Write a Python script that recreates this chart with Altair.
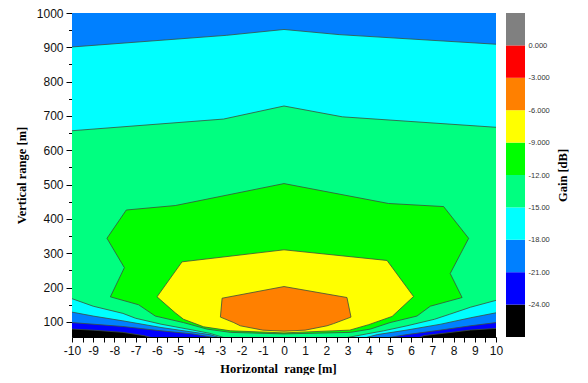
import altair as alt
import pandas as pd

# ---------------- data ----------------
X_DOMAIN = [-10, 10]
Y_DOMAIN = [56, 1000]

# contour -24 dB (black | blue)
C24L_X = [-10, -9, -7.6, -6.6, -6.0]
C24L_Y = [79, 76, 69.5, 60, 50]
C24R_X = [6.2, 6.6, 7.5, 8.8, 10]
C24R_Y = [50, 60, 66.6, 76.3, 81]
# contour -21 dB
C21L_X = [-10, -7.6, -5.8, -4.3, -2.9]
C21L_Y = [98, 86.6, 74, 65, 50]
C21R_X = [4.5, 5.8, 7.4, 8.8, 10]
C21R_Y = [50, 63, 76.3, 88.6, 98]
# contour -18 dB (bottom left / bottom right / top)
C18L_X = [-10, -9, -7.6, -5.8, -3.5, -2.8]
C18L_Y = [128.5, 117, 103, 83.7, 63, 50]
C18R_X = [3.6, 4.4, 5.8, 7.4, 8.8, 10]
C18R_Y = [50, 63, 76.3, 93.4, 112, 126.5]
C18T_X = [-10, -2.7, 0, 2.6, 10]
C18T_Y = [901, 935, 952, 937, 909]
# contour -15 dB
C15L_X = [-10, -9, -7.6, -7.0, -5.8, -4.3, -3.5, -2.6]
C15L_Y = [167.7, 145.7, 124.8, 110.6, 93.4, 76.3, 66.6, 50]
C15R_X = [2.6, 3.9, 4.7, 5.8, 7.1, 7.8, 8.8, 10]
C15R_Y = [50, 65, 74, 88.6, 107.7, 122, 142.8, 162.8]
C15T_X = [-10, -2.85, 0, 2.75, 10]
C15T_Y = [657, 691, 729, 697.5, 667]
# contour -12 dB (closed)
C12_X = [0, 4.93, 7.53, 8.71, 7.84, 8.4, 6.9, 6.27, 5.0, 4.07, 3.13, 0,
         -2.53, -3.63, -4.74, -6.07, -6.86, -8.19, -7.53, -8.35, -7.44, -5.13, 0]
C12_Y = [503, 445, 436, 343.5, 241, 171, 145.7, 117, 98, 79, 69.5, 65,
         69.5, 79, 98, 117, 150, 173, 258, 343.5, 426, 439, 503]
# contour -9 dB (closed)
C9_X = [0, 4.86, 6.11, 5.1, 4.0, 3.1, 0, -2.53, -3.79, -4.74, -5.13, -5.99, -4.81, 0]
C9_Y = [310, 279, 174, 116, 92, 76, 68, 74, 85.7, 107.7, 126.5, 173, 275, 310]
# contour -6 dB (closed)
C6_X = [0, 2.97, 3.16, 2.34, 2.03, 1, 0, -1, -2.06, -2.37, -3.0, -2.92, 0]
C6_Y = [203, 171, 114, 95, 88.6, 76, 73, 76, 88.6, 98, 114, 169, 203]

# colour bar
LEG_LO = [-27, -24, -21, -18, -15, -12, -9, -6, -3, 0]
LEG_HI = [-24, -21, -18, -15, -12, -9, -6, -3, 0, 3]
LEG_COLORS = ["#000000", "#0000ff", "#0080ff", "#00ffff", "#00ff80",
              "#00ff00", "#ffff00", "#ff8000", "#ff0000", "#808080"]
LEG_TICKS = [-24, -21, -18, -15, -12, -9, -6, -3, 0]

X_TICKS = [v / 2 for v in range(-20, 21)]
Y_TICKS = list(range(100, 1001, 50))

# ---------------- build tables ----------------
TOP = 1010
polys = {
    "p24": ([X_DOMAIN[0]] + C24L_X + C24R_X + [X_DOMAIN[1]],
            [TOP] + C24L_Y + C24R_Y + [TOP], "#0000ff"),
    "p21": ([X_DOMAIN[0]] + C21L_X + C21R_X + [X_DOMAIN[1]],
            [TOP] + C21L_Y + C21R_Y + [TOP], "#0080ff"),
    "p18": (C18L_X + C18R_X + C18T_X[::-1], C18L_Y + C18R_Y + C18T_Y[::-1], "#00ffff"),
    "p15": (C15L_X + C15R_X + C15T_X[::-1], C15L_Y + C15R_Y + C15T_Y[::-1], "#00ff80"),
    "p12": (C12_X, C12_Y, "#00ff00"),
    "p9": (C9_X, C9_Y, "#ffff00"),
    "p6": (C6_X, C6_Y, "#ff8000"),
}
poly_rows = []
for name, (xs, ys, _) in polys.items():
    for i, (x, y) in enumerate(zip(xs, ys)):
        poly_rows.append({"region": name, "i": i, "x": x, "y": y})
poly_df = pd.DataFrame(poly_rows)

curves = {
    "24L": (C24L_X, C24L_Y), "24R": (C24R_X, C24R_Y),
    "21L": (C21L_X, C21L_Y), "21R": (C21R_X, C21R_Y),
    "18L": (C18L_X, C18L_Y), "18R": (C18R_X, C18R_Y), "18T": (C18T_X, C18T_Y),
    "15L": (C15L_X, C15L_Y), "15R": (C15R_X, C15R_Y), "15T": (C15T_X, C15T_Y),
    "12": (C12_X, C12_Y), "9": (C9_X, C9_Y), "6": (C6_X, C6_Y),
}
line_rows = []
for name, (xs, ys) in curves.items():
    for i, (x, y) in enumerate(zip(xs, ys)):
        line_rows.append({"curve": name, "i": i, "x": x, "y": y})
line_df = pd.DataFrame(line_rows)

leg_df = pd.DataFrame({"lo": LEG_LO, "hi": LEG_HI, "band": [str(v) for v in LEG_LO]})

# ---------------- encodings ----------------
x_enc = alt.X("x:Q", scale=alt.Scale(domain=X_DOMAIN, nice=False, zero=False),
              axis=alt.Axis(values=X_TICKS, labelExpr="datum.value % 1 ? '' : '' + datum.value",
                            labelOverlap=False, labelFlush=False,
                            title="Horizontal\u00a0 range [m]", grid=False, tickSize=5,
                            tickColor="#000", domainColor="#000", labelFont="Liberation Sans",
                            labelFontSize=12, labelColor="#111", labelPadding=3,
                            titleFont="Liberation Serif", titleFontWeight="bold",
                            titleFontSize=12.5, titleColor="#000", titlePadding=6, titleX=206))
y_enc = alt.Y("y:Q", scale=alt.Scale(domain=Y_DOMAIN, nice=False, zero=False),
              axis=alt.Axis(values=Y_TICKS, labelExpr="datum.value % 100 ? '' : '' + datum.value",
                            labelOverlap=False, labelFlush=False,
                            title="Vertical range [m]", grid=False,
                            tickSize={"condition": {"test": "datum.value % 100 != 0", "value": 3.5}, "value": 6},
                            tickColor="#000", domainColor="#000", labelFont="Liberation Sans",
                            labelFontSize=12, labelColor="#111", labelPadding=3,
                            titleFont="Liberation Serif", titleFontWeight="bold",
                            titleFontSize=12.5, titleColor="#000", titlePadding=8))

layers = []
for name, (_, _, col) in polys.items():
    layers.append(
        alt.Chart(poly_df).transform_filter(alt.datum.region == name)
        .mark_line(fill=col, strokeWidth=0, strokeOpacity=0, clip=True)
        .encode(x=x_enc, y=y_enc, order=alt.Order("i:Q"))
    )
layers.append(
    alt.Chart(line_df).mark_line(stroke="#3b4f3b", strokeWidth=0.8, clip=True)
    .encode(x=x_enc, y=y_enc, detail="curve:N", order=alt.Order("i:Q"))
)
main = alt.layer(*layers)

legend_bar = alt.Chart(leg_df).mark_rect().encode(
    y=alt.Y("lo:Q", scale=alt.Scale(domain=[-27, 3], nice=False, zero=False),
            axis=alt.Axis(orient="right", values=LEG_TICKS, labelOverlap=False, labelFlush=False,
                          labelExpr="datum.value == 0 ? '0.000' : replace(format(datum.value, '.4r'), '\u2212', '-')",
                          ticks=False, domain=False, grid=False, offset=30, labelPadding=2,
                          labelFont="Liberation Sans", labelFontSize=7.5, labelColor="#333",
                          title="Gain [dB]", titleAngle=270, titleFont="Liberation Serif",
                          titleFontWeight="bold", titleFontSize=12.5, titleColor="#000",
                          titlePadding=20)),
    y2="hi:Q",
    x=alt.value(434),
    x2=alt.value(453),
    color=alt.Color("band:N", scale=alt.Scale(domain=[str(v) for v in LEG_LO], range=LEG_COLORS),
                    legend=None),
)

chart = (
    alt.layer(main, legend_bar)
    .resolve_scale(y="independent")
    .properties(width=424, height=324,
                autosize=alt.AutoSizeParams(type="none"),
                padding={"left": 64, "top": 5, "right": 84, "bottom": 38})
    .configure_view(fill="#000000", strokeWidth=0)
)

chart.save("out.html", embed_options={"renderer": "svg", "actions": False})
